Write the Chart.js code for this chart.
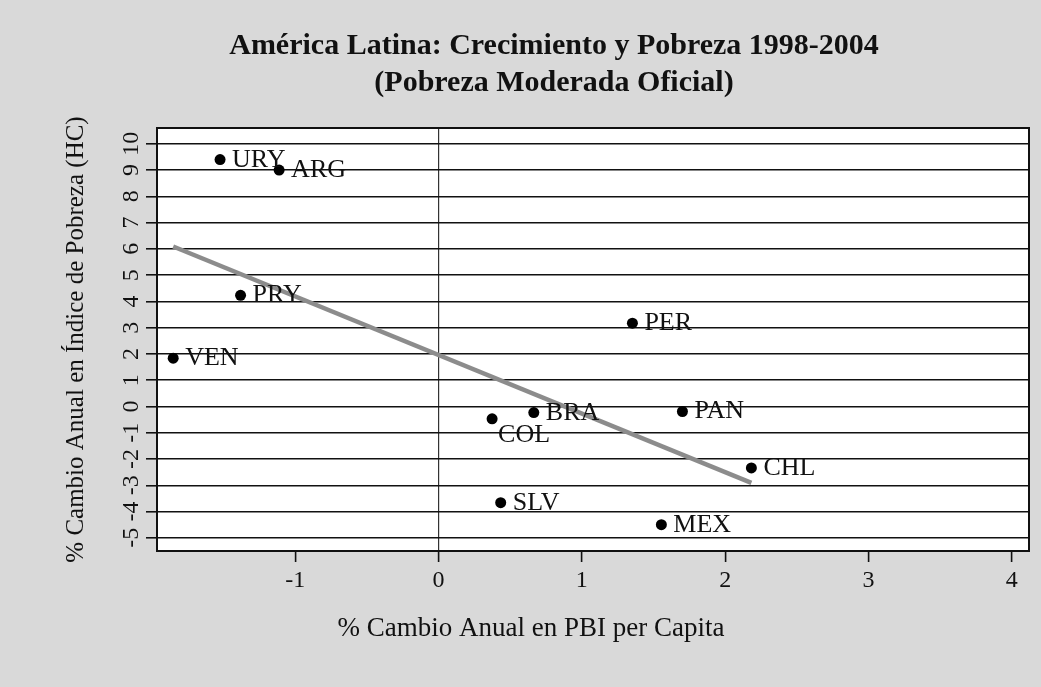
<!DOCTYPE html>
<html lang="es">
<head>
  <meta charset="UTF-8">
  <title>América Latina: Crecimiento y Pobreza 1998-2004</title>
  <script src="https://cdn.jsdelivr.net/npm/chart.js"></script>
  <style>
    html, body {
      margin: 0;
      padding: 0;
      background-color: #d9d9d9;
    }
    .chart-container {
      position: relative;
      width: 1041px;
      height: 687px;
    }
  </style>
</head>
<body>
  <div class="chart-container">
    <canvas id="povertyChart" width="1041" height="687"></canvas>
  </div>

  <script>
    // Datos
    const countries = ['URY', 'ARG', 'PRY', 'VEN', 'PER', 'BRA', 'COL', 'PAN', 'CHL', 'SLV', 'MEX'];
    const gdpGrowth = [-1.524, -1.112, -1.381, -1.851, 1.353, 0.665, 0.374, 1.702, 2.183, 0.434, 1.555];
    const povertyChange = [9.40, 9.00, 4.23, 1.84, 3.17, -0.23, -0.47, -0.19, -2.34, -3.66, -4.50];

    // Recta de ajuste
    const fitX = [-1.851, 2.183];
    const fitY = [6.09, -2.91];

    const xTicks = [-1, 0, 1, 2, 3, 4];
    const yTicks = [-5, -4, -3, -2, -1, 0, 1, 2, 3, 4, 5, 6, 7, 8, 9, 10];

    const titleLines = ['América Latina: Crecimiento y Pobreza 1998-2004', '(Pobreza Moderada Oficial)'];
    const xTitle = '% Cambio Anual en PBI per Capita';
    const yTitle = '% Cambio Anual en Índice de Pobreza (HC)';

    const SERIF = '"Liberation Serif", "Times New Roman", serif';
    const INK = '#111';

    // Fondo, marco, títulos, etiquetas del eje Y (giradas) y nombres de países
    const stataDecor = {
      id: 'stataDecor',
      beforeDraw(chart) {
        const { ctx, chartArea: a } = chart;
        ctx.save();
        ctx.fillStyle = '#d9d9d9';
        ctx.fillRect(0, 0, chart.width, chart.height);
        ctx.fillStyle = '#ffffff';
        ctx.fillRect(a.left, a.top, a.right - a.left, a.bottom - a.top);
        ctx.restore();
      },
      afterDraw(chart, args, opts) {
        const { ctx, chartArea: a, scales: { x, y } } = chart;
        ctx.save();

        ctx.strokeStyle = INK;
        ctx.lineWidth = 2;
        ctx.strokeRect(a.left, a.top, a.right - a.left, a.bottom - a.top);

        ctx.fillStyle = INK;
        ctx.textAlign = 'center';
        ctx.textBaseline = 'alphabetic';
        ctx.font = 'bold 30px ' + SERIF;
        ctx.fillText(titleLines[0], 554, 54);
        ctx.fillText(titleLines[1], 554, 91);

        ctx.font = '27px ' + SERIF;
        ctx.fillText(xTitle, 531, 636);

        // etiquetas del eje Y, leídas de abajo hacia arriba
        ctx.font = '24px ' + SERIF;
        ctx.textBaseline = 'middle';
        yTicks.forEach(v => {
          ctx.save();
          ctx.translate(132, y.getPixelForValue(v));
          ctx.rotate(-Math.PI / 2);
          ctx.fillText(String(v), 0, 0);
          ctx.restore();
        });

        // nombres de países junto a cada punto
        ctx.font = '26px ' + SERIF;
        ctx.textAlign = 'left';
        ctx.textBaseline = 'alphabetic';
        countries.forEach((name, i) => {
          const px = x.getPixelForValue(gdpGrowth[i]);
          const py = y.getPixelForValue(povertyChange[i]);
          if (opts.below.includes(name)) {
            ctx.fillText(name, px + 6, py + 23);
          } else {
            ctx.fillText(name, px + 12, py + 7);
          }
        });

        ctx.restore();
      }
    };

    const ctx = document.getElementById('povertyChart').getContext('2d');
    const povertyChart = new Chart(ctx, {
      type: 'scatter',
      data: {
        datasets: [
          {
            label: 'Países',
            data: countries.map((c, i) => ({ x: gdpGrowth[i], y: povertyChange[i] })),
            backgroundColor: '#000',
            borderWidth: 0,
            pointRadius: 5.5,
            pointHoverRadius: 5.5
          },
          {
            label: 'Ajuste',
            data: fitX.map((v, i) => ({ x: v, y: fitY[i] })),
            showLine: true,
            borderColor: '#8c8c8c',
            borderWidth: 4.5,
            pointRadius: 0
          }
        ]
      },
      options: {
        responsive: false,
        animation: false,
        layout: {
          padding: { left: 0, right: 12, top: 128, bottom: 0 }
        },
        scales: {
          x: {
            type: 'linear',
            min: -1.964,
            max: 4.12,
            afterBuildTicks: axis => { axis.ticks = xTicks.map(v => ({ value: v })); },
            afterFit: axis => { axis.height = 136; },
            border: { display: true, color: INK, width: 2 },
            grid: {
              color: c => (c.tick && c.tick.value === 0 ? '#333' : 'rgba(0,0,0,0)'),
              lineWidth: 1.2,
              tickColor: INK,
              tickWidth: 1.6,
              tickLength: 11
            },
            ticks: {
              color: INK,
              padding: 4,
              font: { family: SERIF, size: 24 }
            }
          },
          y: {
            type: 'linear',
            min: -5.5,
            max: 10.6,
            afterBuildTicks: axis => { axis.ticks = yTicks.map(v => ({ value: v })); },
            afterFit: axis => { axis.width = 157; },
            border: { display: true, color: INK, width: 2 },
            grid: {
              color: INK,
              lineWidth: 1.6,
              tickLength: 11
            },
            ticks: { display: false },
            title: {
              display: true,
              text: yTitle,
              color: INK,
              padding: { top: 61, bottom: 0 },
              font: { family: SERIF, size: 25 }
            }
          }
        },
        plugins: {
          legend: { display: false },
          tooltip: { enabled: false },
          title: { display: false },
          stataDecor: { below: ['COL'] }
        }
      },
      plugins: [stataDecor]
    });
  </script>
</body>
</html>
